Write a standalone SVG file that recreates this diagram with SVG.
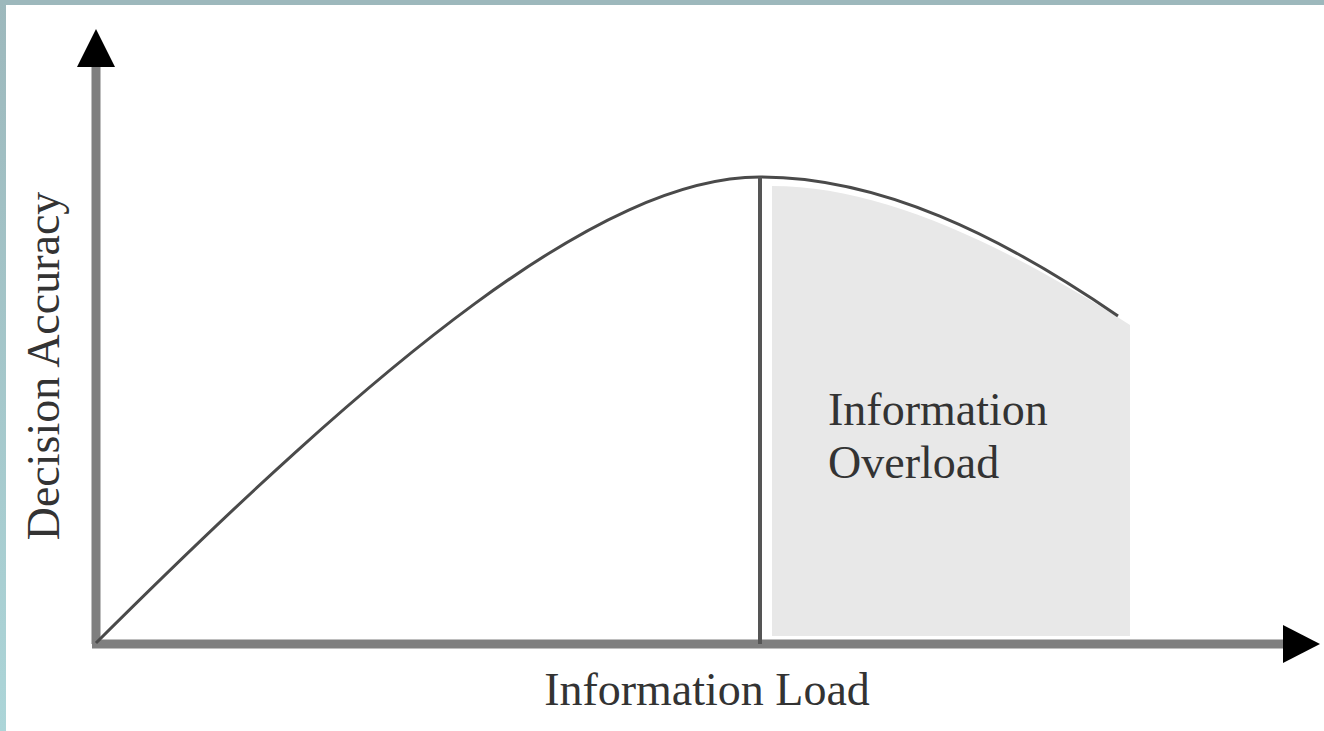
<svg xmlns="http://www.w3.org/2000/svg" width="1324" height="731" viewBox="0 0 1324 731">
  <defs>
    <linearGradient id="leftband" x1="0" y1="0" x2="0" y2="1">
      <stop offset="0" stop-color="#9db8bc"/>
      <stop offset="1" stop-color="#acd5d8"/>
    </linearGradient>
    <style>
      .axis { stroke: #7f7f7f; stroke-width: 9; fill: none; }
      .curve { stroke: #4a4a4a; stroke-width: 3; fill: none; }
      .label { font-family: "Liberation Serif", "Times New Roman", serif; font-size: 46px; fill: #333333; }
    </style>
  </defs>
  <rect x="0" y="0" width="1324" height="731" fill="#ffffff"/>
  <rect x="0" y="0" width="1324" height="5" fill="#9db8bc"/>
  <rect x="0" y="0" width="6" height="731" fill="url(#leftband)"/>

  <g id="overload-region">
    <path d="M772,186 C 880,186 1000,242 1130,325 L1130,636 L772,636 Z" fill="#e8e8e8"/>
    <text class="label" x="828" y="425">Information</text>
    <text class="label" x="828" y="478">Overload</text>
  </g>

  <g id="connectors">
    <line class="axis" x1="96" y1="644" x2="96" y2="64"/>
    <line class="axis" x1="92" y1="644" x2="1286" y2="644"/>
    <polygon points="96,29 77,67 115,67" fill="#000000"/>
    <polygon points="1320,644 1283,625 1283,663" fill="#000000"/>
    <path class="curve" d="M96,643 C 380,360 600,177 760,177 C 880,177 1000,235 1118,316"/>
    <line x1="760" y1="177" x2="760" y2="644" stroke="#555555" stroke-width="4"/>
  </g>

  <g id="x-label">
    <text class="label" x="707" y="705" text-anchor="middle">Information Load</text>
  </g>
  <g id="y-label">
    <text class="label" x="0" y="0" text-anchor="middle" transform="translate(59,366) rotate(-90)">Decision Accuracy</text>
  </g>
</svg>
